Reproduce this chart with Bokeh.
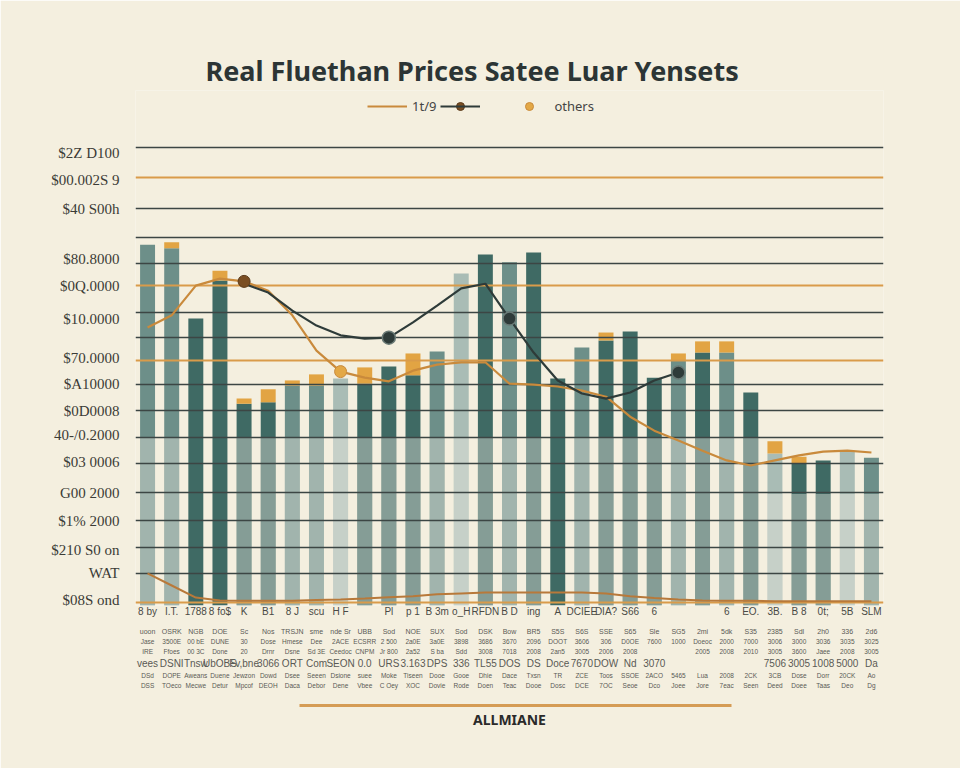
import numpy as np
from bokeh.plotting import figure
from bokeh.models import (FixedTicker, Grid, LinearAxis, Legend, LegendItem,
                          ColumnDataSource, Range1d)
from bokeh.embed import file_html
from bokeh.resources import INLINE

# ---------------- data ----------------
title_text = "Real Fluethan Prices Satee Luar Yensets"
x_title = "ALLMIANE"
legend_labels = ["1t/9", "", "others"]

x_labels = ["8 by", "I.T.", "1788", "8 fo$", "K", "B1", "8 J", "scu", "H F", "", "Pl",
            "p 1", "B 3m", "o_H", "RFDN", "B D", "ing", "A", "DCIEE", "DIA?", "S66", "6",
            "", "", "6", "EO.", "3B.", "B 8", "0t;", "5B", "SLM"]

bar_tops = [77.6, 76.8, 61.7, 69.9, 43.4, 43.7, 47.3, 47.3, 48.8, 47.7, 51.4, 49.5,
            54.6, 71.4, 75.5, 73.8, 75.9, 48.8, 55.5, 57.0, 58.9, 49.0, 52.7, 54.4,
            54.4, 45.8, 32.7, 30.5, 31.2, 33.3, 31.8]
cap_tops = [None, 78.1, None, 72.0, 44.5, 46.5, 48.4, 49.7, None, 51.2, None, 54.2,
            None, None, None, None, None, None, None, 58.7, None, None, 54.2, 56.8,
            56.8, None, 35.3, 32.0, None, None, None]
lower_band = [36.1, 36.1, 0, 0, 36.1, 36.1, 36.1, 36.1, 36.1, 36.1, 36.1, 36.1,
              36.1, 36.1, 36.1, 36.1, 36.1, 0, 36.1, 36.1, 36.1, 36.1, 36.1, 36.1,
              36.1, 36.1, 24.0, 24.0, 24.0, 24.0, 24.0]
bar_tone = ["mid", "mid", "dark", "dark", "dark", "dark", "mid", "mid", "light", "dark",
            "dark", "dark", "mid", "light", "dark", "mid", "dark", "dark", "mid", "dark",
            "dark", "dark", "mid", "dark", "mid", "dark", "light", "dark", "dark", "light", "mid"]

series_1t9 = [59.8, 62.4, 68.8, 70.3, 69.7, 67.7, 62.4, 54.8, 50.3, 49.0, 48.2, 50.5,
              51.8, 52.3, 52.3, 47.7, 47.5, 47.1, 46.2, 44.9, 40.6, 37.6, 35.5, 33.3,
              31.2, 30.1, 31.2, 32.3, 33.1, 33.3, 32.9]
series_dark = [None, None, None, None, 69.2, 67.3, 63.4, 60.2, 58.1, 57.4, 57.6, 60.9,
               64.5, 68.2, 69.2, 61.7, 54.4, 48.4, 45.6, 44.5, 45.8, 48.4, 50.1, None,
               None, None, None, None, None, None, None]
series_base = [6.9, 4.3, 1.7, 1.1, 1.0, 1.0, 1.0, 1.2, 1.3, 1.5, 1.8, 2.0, 2.4, 2.6,
               2.8, 2.8, 2.8, 2.8, 2.8, 2.6, 2.0, 1.6, 1.3, 1.1, 1.0, 1.0, 0.9, 0.9,
               0.9, 0.9, 0.9]
brown_points = [4]
gold_points = [8]
dark_points = [10, 15, 22]

y_ticks = [97.4, 91.4, 85.2, 74.6, 68.8, 61.7, 53.3, 47.7, 41.9, 36.6, 30.8, 24.1,
           18.1, 12.0, 6.9, 1.1]
y_tick_labels = ["$2Z D100", "$00.002S 9", "$40 S00h", "$80.8000", "$0Q.0000",
                 "$10.0000", "$70.0000", "$A10000", "$0D0008", "40-/0.2000",
                 "$03 0006", "G00 2000", "$1% 2000", "$210 S0 on", "WAT", "$08S ond"]
dark_grid = [98.5, 85.4, 79.1, 73.5, 63.0, 57.6, 47.5, 41.9, 36.1, 30.5, 24.3,
             18.3, 12.5, 6.9]
orange_grid = [92.0, 68.8, 52.7, 0.6]
rule_span = (6.3, 24.2)   # extent of the orange rule under the table (category units)

table_rows = [
    ["uoon", "OSRK", "NGB", "DOE", "Sc", "Nos", "TRSJN", "sme", "nde Sr", "UBB", "Sod",
     "NOE", "SUX", "Sod", "DSK", "Bow", "BR5", "S5S", "S6S", "SSE", "S65", "Sle", "SG5",
     "2mi", "5dk", "S35", "2385", "Sdl", "2h0", "336", "2d6"],
    ["Jase", "3500E", "00 bE", "DUNE", "30", "Dose", "Hmese", "Dee", "2ACE", "ECSRR",
     "2 500", "2a0E", "3a0E", "3898", "3686", "3670", "2096", "DOOT", "3606", "306",
     "D0OE", "7600", "1000", "Doeoc", "2000", "7000", "3006", "3000", "3036", "3035", "3025"],
    ["IRE", "Ffoes", "00 3C", "Done", "20", "Drnr", "Dsne", "Sd 3E", "Ceedoc", "CNPM",
     "Jr 800", "2a52", "S ba", "Sdd", "3008", "7018", "2008", "2an5", "3005", "2006",
     "2008", "", "", "2005", "2008", "2010", "3005", "3600", "Jaee", "2008", "3005"],
    ["vees", "DSNI", "Tnsw", "UbOBS", "Fv,bne", "3066", "ORT", "Com", "SEON", "0.0",
     "URS", "3.163", "DPS", "336", "TL55", "DOS", "DS", "Doce", "7670", "DOW", "Nd",
     "3070", "", "", "", "", "7506", "3005", "1008", "5000", "Da"],
    ["DSd", "DOPE", "Aweans", "Duene", "Jewzon", "Dowd", "Dsee", "Seeen", "Dsione",
     "suee", "Moke", "Tiseen", "Dooe", "Gooe", "Dhie", "Dace", "Txsn", "TR", "ZCE",
     "Toos", "SSOE", "2ACO", "5465", "Lua", "2008", "2CK", "3CB", "Dose", "Dorr",
     "20CK", "Ao"],
    ["DSS", "TOeco", "Mecwe", "Detur", "Mpcof", "DEOH", "Daca", "Debor", "Dene", "Vbee",
     "C Oey", "XOC", "Dovie", "Rode", "Doen", "Teac", "Dooe", "Dosc", "DCE", "7OC",
     "Seoe", "Dco", "Joee", "Jore", "7eac", "Seen", "Deed", "Doee", "Taas", "Deo", "Dg"],
]

# ---------------- styles ----------------
BG = "#f4efdf"
TONES = {"dark": "#3f6a64", "mid": "#6d8f89", "light": "#a9bcb5"}
ORANGE = "#d99b4a"
LINE_ORANGE = "#c98a3c"
DARK = "#2e3b39"
TXT = "#3b3b36"

n = len(x_labels)
idx = list(range(n))

p = figure(width=960, height=768, output_backend="svg", toolbar_location=None,
           x_range=Range1d(-0.5, n - 0.5), y_range=Range1d(0, 110.75),
           min_border_left=135, min_border_right=77, min_border_top=90,
           min_border_bottom=163, background_fill_color=BG, border_fill_color=BG,
           outline_line_color=None)

p.title.text = title_text
p.title.align = "left"
p.title.offset = 70
p.title.text_font = "Noto Sans"
p.title.text_font_size = "27px"
p.title.text_font_style = "bold"
p.title.text_color = "#2c3535"
p.title.standoff = 4

# bars
src = ColumnDataSource(dict(x=idx, top=bar_tops, lower=lower_band,
                            color=[TONES[t] for t in bar_tone]))
r_bars = p.vbar(x="x", top="top", width=0.62, source=src, fill_color="color",
                line_color=None)
r_low = p.vbar(x="x", top="lower", width=0.62, source=src, fill_color="#f6f3e8",
               fill_alpha=0.38, line_color=None)
cap_x = [i for i in idx if cap_tops[i] is not None]
r_caps = p.vbar(x=cap_x, bottom=[bar_tops[i] for i in cap_x],
                top=[cap_tops[i] for i in cap_x], width=0.62,
                fill_color="#e2a443", line_color=None)
for r in (r_bars, r_low, r_caps):
    r.level = "image"

# grids
p.xgrid.visible = False
p.ygrid.ticker = FixedTicker(ticks=dark_grid)
p.ygrid.grid_line_color = "#3c4644"
p.ygrid.grid_line_width = 1.4
p.ygrid.level = "underlay"
g2 = Grid(dimension=1, ticker=FixedTicker(ticks=orange_grid), grid_line_color=ORANGE,
          grid_line_width=2.2, level="underlay")
p.add_layout(g2)

# lines
r_base = p.line(idx, series_base, line_color="#b8793a", line_width=2)
r_1t9 = p.line(idx, series_1t9, line_color=LINE_ORANGE, line_width=2.2)
r_dark = p.line(idx, np.array(series_dark, dtype=float), line_color=DARK, line_width=2.2)
r_brown = p.scatter(brown_points, [series_1t9[i] for i in brown_points], size=12,
                    fill_color="#7a4e22", line_color="#5a3a1a")
r_gold = p.scatter(gold_points, [series_1t9[i] for i in gold_points], size=12,
                   fill_color="#e3a846", line_color="#c98a3c")
r_dk = p.scatter(dark_points, [series_dark[i] for i in dark_points], size=13,
                 fill_color=DARK, line_color="#6a7a76", line_width=1.5)

legend = Legend(items=[LegendItem(label=legend_labels[0], renderers=[r_1t9]),
                       LegendItem(label=legend_labels[1], renderers=[r_brown, r_dark]),
                       LegendItem(label=legend_labels[2], renderers=[r_gold])],
                orientation="horizontal", background_fill_alpha=0,
                border_line_color=None, label_text_font_size="13px",
                label_text_font="Noto Sans", label_text_color="#444444",
                glyph_width=40, spacing=4, margin=0, padding=4,
                location=(232, 489))
p.add_layout(legend, "center")

# y axis
p.yaxis.ticker = FixedTicker(ticks=y_ticks)
p.yaxis.major_label_overrides = dict(zip(y_ticks, y_tick_labels))
p.yaxis.major_label_text_font = "Liberation Serif"
p.yaxis.major_label_text_font_size = "15px"
p.yaxis.major_label_text_color = TXT
p.yaxis.axis_line_color = None
p.yaxis.major_tick_line_color = None
p.yaxis.minor_tick_line_color = None
p.yaxis.major_label_standoff = 10

# x axis (main row)
p.xaxis.ticker = FixedTicker(ticks=idx)
p.xaxis.major_label_overrides = dict(zip(idx, x_labels))
p.xaxis.major_label_text_font = "Liberation Sans"
p.xaxis.major_label_text_font_size = "10px"
p.xaxis.major_label_text_color = "#4a4a45"
p.xaxis.axis_line_color = None
p.xaxis.major_tick_line_color = None
p.xaxis.minor_tick_line_color = None
p.xaxis.major_tick_out = 0
p.xaxis.major_label_standoff = 0

row_sizes = ["7px", "6.5px", "6.5px", "10px", "6.5px", "6.5px"]
row_standoffs = [8, 0, 0, 0, 0, 0]
for k, row in enumerate(table_rows):
    ax = LinearAxis(ticker=FixedTicker(ticks=idx),
                    major_label_overrides=dict(zip(idx, row)),
                    major_label_text_font="Liberation Sans",
                    major_label_text_font_size=row_sizes[k],
                    major_label_text_color="#5a5a55",
                    axis_line_color=None, major_tick_line_color=None,
                    minor_tick_line_color=None, major_tick_out=0,
                    major_label_standoff=row_standoffs[k])
    if k == len(table_rows) - 1:
        ax.axis_label = "\u00a0"
        ax.axis_label_text_font_size = "10px"
        ax.axis_label_standoff = 0
    p.add_layout(ax, "below")

# orange rule under the table, carrying the x title
rule_ax = LinearAxis(ticker=FixedTicker(ticks=[]), bounds=rule_span,
                     axis_line_color="#d59c55", axis_line_width=3,
                     major_tick_line_color=None, minor_tick_line_color=None,
                     major_tick_out=0, major_label_text_font_size="0px",
                     axis_label=x_title, axis_label_text_font="Noto Sans",
                     axis_label_text_font_style="bold",
                     axis_label_text_font_size="14px",
                     axis_label_text_color="#2a2a2a", axis_label_standoff=4)
p.add_layout(rule_ax, "below")

open("out.html", "w").write(file_html(p, INLINE))
